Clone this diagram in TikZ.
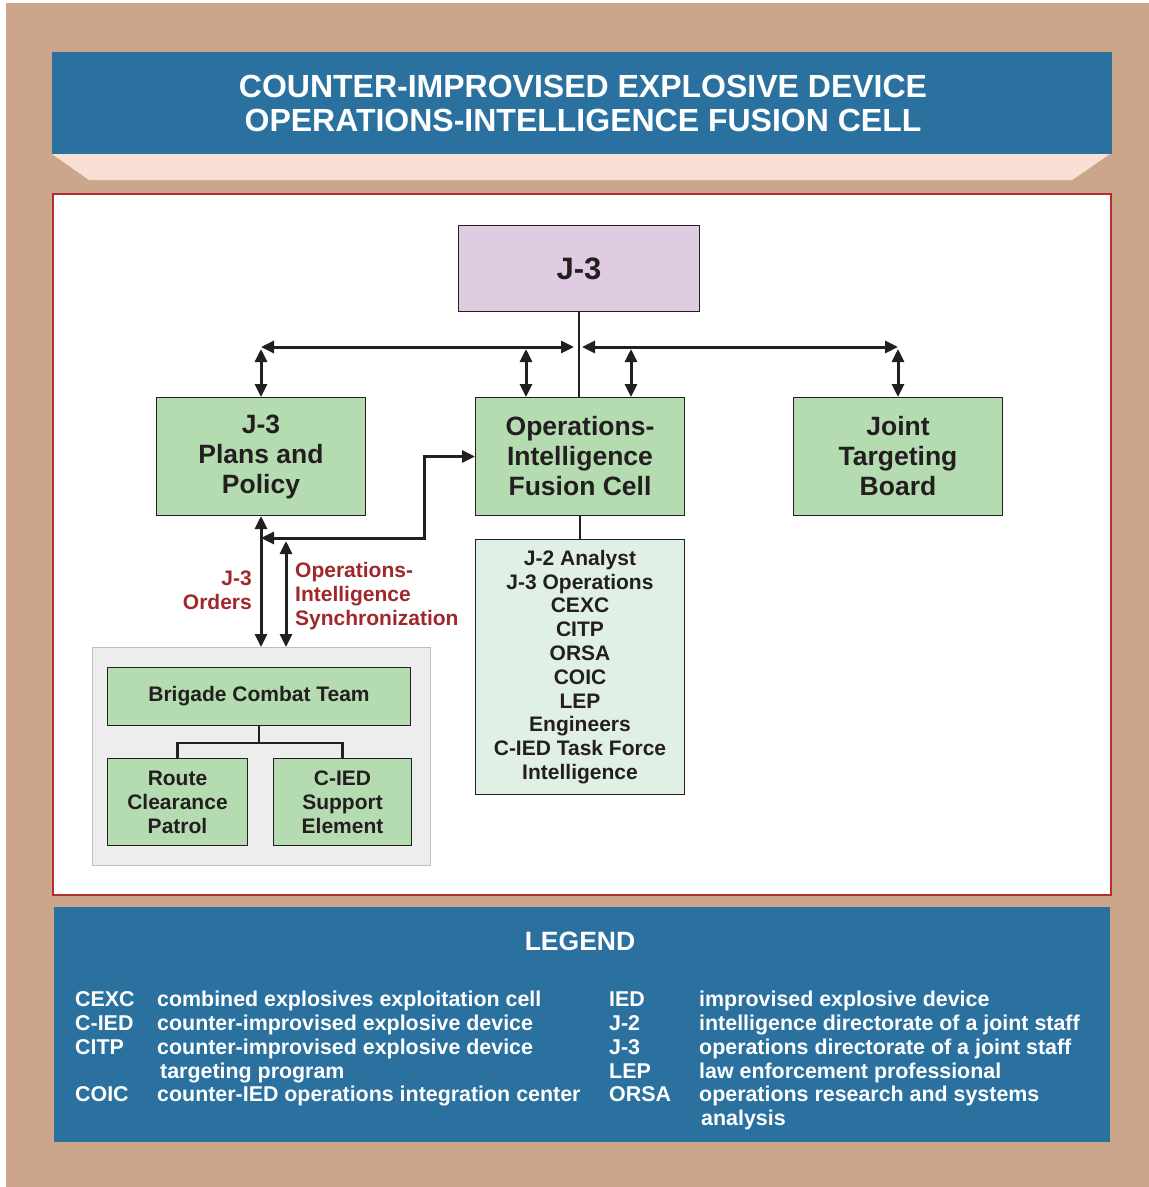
\documentclass[tikz,border=0pt]{standalone}
\usepackage{fontspec}
\setmainfont{Liberation Sans}
\usetikzlibrary{arrows.meta}
\definecolor{framebg}{HTML}{CBA68B}
\definecolor{banner}{HTML}{2B71A0}
\definecolor{ribbon}{HTML}{FADFD5}
\definecolor{panelrim}{HTML}{B2302B}
\definecolor{unitgreen}{HTML}{B5DCB0}
\definecolor{j3purple}{HTML}{DFCCE3}
\definecolor{listgreen}{HTML}{E1F0E4}
\definecolor{groupgray}{HTML}{EDEDED}
\definecolor{grouprim}{HTML}{BFBFBF}
\definecolor{ink}{HTML}{231F20}
\definecolor{flowred}{HTML}{A0282B}

\begin{document}
\begin{tikzpicture}[x=1pt, y=-1pt, >={Triangle[length=13pt,width=12pt]}]
        \tikzstyle{every node}=[inner sep=0pt, text=ink]
        \tikzstyle{unit}=[draw=ink, line width=1pt, fill=unitgreen, align=center, anchor=north west, minimum width=209pt, minimum height=118pt, font=\fontsize{26.5}{30}\selectfont\bfseries]
        \tikzstyle{small}=[font=\fontsize{21}{24}\selectfont\bfseries]
        \tikzstyle{link}=[draw=ink, line width=3pt]
        \tikzstyle{flow}=[link, <->]
        \tikzstyle{flowlabel}=[small, text=flowred]
        \tikzstyle{legendtext}=[font=\fontsize{21.4}{24}\selectfont\bfseries, text=white, anchor=base west]
        \useasboundingbox (0,0) rectangle (1149,1187);
        \fill[white] (0,0) rectangle (1149,1187);
        \fill[framebg] (6,3) rectangle (1149,1187);
        \fill[banner] (52,52) rectangle (1112,154);
        \fill[ribbon] (52,154) -- (1110,154) -- (1072,180) -- (89,180) -- cycle;
        \node[font=\fontsize{32}{34}\selectfont\bfseries, text=white, align=center] (title) at (583,103) {COUNTER-IMPROVISED EXPLOSIVE DEVICE\\OPERATIONS-INTELLIGENCE FUSION CELL};
        \draw[panelrim, fill=white, line width=1.2pt] (53,194) rectangle (1111,895);
        \node[unit, fill=j3purple, minimum width=241pt, minimum height=86pt, font=\fontsize{31}{34}\selectfont\bfseries] (j3) at (458,225) {J-3};
        \node[unit] (plans) at (156,397) {J-3\\Plans and\\Policy};
        \node[unit] (fusion) at (475,397) {Operations-\\Intelligence\\Fusion Cell};
        \node[unit] (jtb) at (793,397) {Joint\\Targeting\\Board};
        \node[unit, fill=listgreen, minimum height=255pt, font=\fontsize{21}{23.8}\selectfont\bfseries] (staff) at (475,539) {J-2 Analyst\\J-3 Operations\\CEXC\\CITP\\ORSA\\COIC\\LEP\\Engineers\\C-IED Task Force\\Intelligence};
        \node[draw=grouprim, fill=groupgray, line width=1pt, anchor=north west, minimum width=338pt, minimum height=218pt] (bctgroup) at (92,647) {};
        \node[unit, minimum width=303pt, minimum height=58pt, small] (bct) at (107,667) {Brigade Combat Team};
        \node[unit, minimum width=140pt, minimum height=87pt, small] (rcp) at (107,758) {Route\\Clearance\\Patrol};
        \node[unit, minimum width=138pt, minimum height=87pt, small] (cse) at (273,758) {C-IED\\Support\\Element};
        \node[flowlabel, align=right, anchor=east] (orders) at (252,590) {J-3\\Orders};
        \node[flowlabel, align=left, anchor=west] (sync) at (295,596) {Operations-\\Intelligence\\Synchronization};
        \coordinate (bus) at (578,347);
        \coordinate (drop) at (0,349);
        \coordinate (dropL) at (526,349);
        \coordinate (dropR) at (631,349);
        \coordinate (elbow) at (424,538);
        \coordinate (synctop) at (286,541);
        \draw[link, line width=2.6pt] (j3.south) -- (j3.south |- fusion.north);
        \draw[flow] ([xshift=-4pt]bus) -- (bus -| plans.north);
        \draw[flow] ([xshift=4pt]bus) -- (bus -| jtb.north);
        \draw[flow] (drop -| plans.north) -- (plans.north);
        \draw[flow] (dropL) -- (dropL |- fusion.north);
        \draw[flow] (dropR) -- (dropR |- fusion.north);
        \draw[flow] (drop -| jtb.north) -- (jtb.north);
        \draw[link, line width=2.6pt] (fusion.south) -- (staff.north);
        \draw[flow] (elbow -| plans.south) -- (elbow) |- (fusion.west);
        \draw[flow] (plans.south) -- (plans.south |- bctgroup.north);
        \draw[flow] (synctop) -- (synctop |- bctgroup.north);
        \draw[link, line width=2.2pt] (bct.south) -- ++(0,17) -| (rcp.north);
        \draw[link, line width=2.2pt] (bct.south) -- ++(0,17) -| (cse.north);
        \fill[banner] (54,907) rectangle (1110,1142);
        \node[font=\fontsize{26.5}{30}\selectfont\bfseries, text=white] (legend) at (580,941) {LEGEND};
        \foreach \y/\abbr/\desc in {1006/CEXC/combined explosives exploitation cell, 1030/C-IED/counter-improvised explosive device, 1054/CITP/counter-improvised explosive device, 1101/COIC/counter-IED operations integration center}
            {\node[legendtext] at (75,\y) {\abbr}; \node[legendtext] at (157,\y) {\desc};}
        \node[legendtext] (citpmore) at (160,1078) {targeting program};
        \foreach \y/\abbr/\desc in {1006/IED/improvised explosive device, 1030/J-2/intelligence directorate of a joint staff, 1054/J-3/operations directorate of a joint staff, 1078/LEP/law enforcement professional, 1101/ORSA/operations research and systems}
            {\node[legendtext] at (609,\y) {\abbr}; \node[legendtext] at (699,\y) {\desc};}
        \node[legendtext] (orsamore) at (701,1125) {analysis};
    \end{tikzpicture}
\end{document}
